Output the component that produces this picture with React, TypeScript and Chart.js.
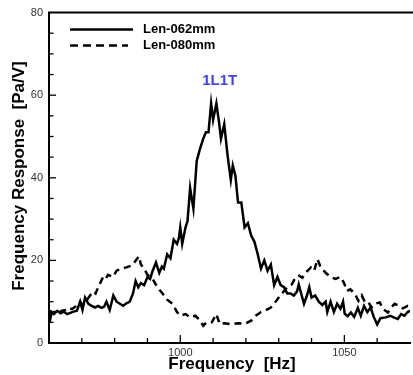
import React, { useEffect, useRef } from "react";
import { Chart, registerables } from "chart.js";

Chart.register(...registerables);

// Len-062mm (solid)
const freq062 = [960.2, 960.8, 961.5, 962.5, 963.5, 964.5, 965.5, 966.5, 967.5, 968.5, 969.5, 970.2, 971, 972, 973, 974, 975, 976, 976.8, 977.5, 978.5, 979.6, 980.6, 981.6, 982.6, 983.6, 984.6, 985.6, 986.4, 987.2, 988, 989, 990, 990.8, 991.6, 992.6, 993.6, 994.4, 995, 996, 997, 998, 999, 999.6, 1000, 1000.6, 1001.6, 1002.2, 1003, 1004, 1005, 1006, 1007, 1007.8, 1008.6, 1009.4, 1010, 1011, 1011.8, 1012.4, 1013.4, 1014.4, 1015.4, 1016, 1016.8, 1017.6, 1018.6, 1019.6, 1020.6, 1021.6, 1022.6, 1023.6, 1024.6, 1025.6, 1026.6, 1027.6, 1028.6, 1029.6, 1030.6, 1031.6, 1032.6, 1033.6, 1034.6, 1035.6, 1036.1, 1036.9, 1037.7, 1038.6, 1039.3, 1040, 1041.1, 1042.2, 1043.3, 1044.3, 1044.8, 1045.8, 1046.8, 1047.8, 1048.8, 1049.6, 1050.1, 1051, 1052, 1053, 1054.1, 1055, 1056, 1057, 1058, 1059, 1060, 1061, 1062.6, 1064, 1065, 1066.3, 1067.3, 1068.3, 1069.3, 1070];
const resp062 = [5, 7.5, 7, 7.8, 7.2, 7.6, 7, 7.3, 7.6, 7.8, 10, 8, 11, 9.5, 9, 8.6, 9, 8.5, 8.8, 10, 8, 11.5, 10, 9.5, 9, 9.6, 10, 12, 15, 13.5, 14.5, 14, 16, 15.5, 17.5, 19.5, 17, 18.5, 18, 21.5, 20.5, 25, 24, 25.5, 28, 24, 28, 29.5, 37.5, 32.5, 44, 47, 49.5, 51, 51, 58, 54, 58, 53.5, 49.5, 53, 45.5, 39.5, 43, 40.5, 34, 34, 28, 29, 26, 24.5, 21.5, 18, 20, 17.5, 19, 14, 16, 14, 13.5, 12, 12, 11.5, 12.5, 14.2, 11.8, 9.5, 11.5, 13.5, 11, 11.5, 10, 9.2, 10, 7.5, 10, 7.5, 9.5, 8.3, 10, 7.1, 6.5, 7.4, 6.3, 8.5, 6.6, 9, 7.5, 8.6, 6.2, 4.5, 6, 6.2, 6.6, 6.2, 5.8, 7, 6.6, 7.5, 7.8];

// Len-080mm (dashed)
const freq080 = [960.2, 961, 962, 963, 964, 965, 966, 967, 968, 969.5, 970.2, 971, 972.5, 973.5, 974.2, 975, 976.5, 977.2, 978, 979.5, 980.6, 982, 983.6, 985, 986, 987.4, 988, 989, 990, 991.6, 993, 994.6, 996, 997.6, 999, 1000, 1001.6, 1003, 1004.6, 1006, 1007, 1008, 1009.6, 1011, 1012, 1013.6, 1015.6, 1017.6, 1019.6, 1021.6, 1023, 1024.6, 1026, 1027.6, 1028.6, 1030, 1031.2, 1032.6, 1034, 1035.2, 1036.2, 1037.2, 1038.2, 1039.8, 1040.8, 1041.8, 1042.8, 1044.3, 1045.8, 1047.3, 1048.8, 1049.8, 1050.8, 1051.8, 1053.3, 1054.3, 1055.3, 1056.3, 1057.3, 1058.3, 1059.3, 1060.8, 1061.8, 1063.3, 1064.3, 1065.3, 1066.3, 1067.8, 1069.3, 1070];
const resp080 = [7.8, 7.2, 7.8, 7.4, 7.8, 8, 8.5, 8.2, 8.8, 10, 9.2, 9.8, 11.5, 12.5, 12, 13.5, 16, 15.5, 16.5, 16, 17.5, 18, 18.3, 18.7, 19.5, 21, 19, 18, 16.5, 15.5, 13.5, 12, 10.5, 9.5, 7.5, 6.6, 7, 6.2, 6.6, 5.5, 4.2, 5, 5, 7, 4.6, 4.8, 4.5, 4.8, 4.6, 5.4, 6.6, 7.5, 7.9, 8.6, 9.5, 11, 12.2, 13.5, 14.2, 16, 16.3, 15.8, 17, 18.3, 17.5, 20.3, 18.3, 17, 16, 15.5, 16, 14.7, 12.6, 13, 11.8, 10.2, 11.5, 9.8, 9.9, 8.6, 9.5, 9.8, 8.2, 7.4, 8.6, 9.5, 9.1, 8.4, 9, 8.8];

const seriesNames = ["Len-062mm", "Len-080mm"];
const xTitle = "Frequency  [Hz]";
const yTitle = "Frequency Response  [Pa/V]";
const annotationText = "1L1T";
const annotationAt = [1012, 63.5];

const X_MIN = 960, X_MAX = 1070, X_MINOR = 10, X_MAJOR = 50;
const Y_MIN = 0, Y_MAX = 80, Y_MINOR = 5, Y_MAJOR = 20;

const toPoints = (xs: number[], ys: number[]) => xs.map((x, i) => ({ x, y: ys[i] }));

const decorPlugin = {
  id: "decor",
  afterDraw(chart: any) {
    const ctx = chart.ctx;
    const ca = chart.chartArea;
    const xs = chart.scales.x;
    const ys = chart.scales.y;
    ctx.save();
    // top frame line
    ctx.strokeStyle = "#000";
    ctx.lineWidth = 2;
    ctx.beginPath();
    ctx.moveTo(ca.left - 1, ca.top);
    ctx.lineTo(chart.width, ca.top);
    ctx.stroke();
    // inward ticks
    ctx.lineWidth = 1.3;
    for (let v = X_MIN + X_MINOR; v < X_MAX; v += X_MINOR) {
      const px = xs.getPixelForValue(v);
      const len = v % X_MAJOR === 0 ? 8 : 5;
      ctx.beginPath();
      ctx.moveTo(px, ca.bottom);
      ctx.lineTo(px, ca.bottom - len);
      ctx.stroke();
    }
    for (let v = Y_MIN + Y_MINOR; v < Y_MAX; v += Y_MINOR) {
      const py = ys.getPixelForValue(v);
      const len = v % Y_MAJOR === 0 ? 7 : 4.5;
      ctx.beginPath();
      ctx.moveTo(ca.left, py);
      ctx.lineTo(ca.left + len, py);
      ctx.stroke();
    }
    // legend
    ctx.lineWidth = 2.5;
    ctx.beginPath();
    ctx.moveTo(ca.left + 21, ca.top + 17);
    ctx.lineTo(ca.left + 84, ca.top + 17);
    ctx.stroke();
    ctx.setLineDash([8, 5]);
    ctx.beginPath();
    ctx.moveTo(ca.left + 21, ca.top + 33);
    ctx.lineTo(ca.left + 79, ca.top + 33);
    ctx.stroke();
    ctx.setLineDash([]);
    ctx.fillStyle = "#000";
    ctx.font = "bold 13px 'Liberation Sans', Arial, sans-serif";
    ctx.textAlign = "left";
    ctx.textBaseline = "middle";
    ctx.fillText(seriesNames[0], ca.left + 94, ca.top + 17);
    ctx.fillText(seriesNames[1], ca.left + 94, ca.top + 33);
    // annotation
    ctx.fillStyle = "#4040ff";
    ctx.font = "bold 15px 'Liberation Sans', Arial, sans-serif";
    ctx.textAlign = "center";
    ctx.fillText(annotationText, xs.getPixelForValue(annotationAt[0]), ys.getPixelForValue(annotationAt[1]));
    // axis titles
    ctx.fillStyle = "#000";
    ctx.font = "bold 17px 'Liberation Sans', Arial, sans-serif";
    ctx.fillText(xTitle, 232, 364);
    ctx.translate(19, 176);
    ctx.rotate(-Math.PI / 2);
    ctx.fillText(yTitle, 0, 0);
    ctx.restore();
  },
};

export default function App() {
  const ref = useRef<HTMLCanvasElement | null>(null);
  useEffect(() => {
    if (!ref.current) return;
    const chart = new Chart(ref.current, {
      type: "line",
      data: {
        datasets: [
          {
            label: seriesNames[0],
            data: toPoints(freq062, resp062),
            borderColor: "#000",
            borderWidth: 2.5,
            pointRadius: 0,
            tension: 0,
            fill: false,
          },
          {
            label: seriesNames[1],
            data: toPoints(freq080, resp080),
            borderColor: "#000",
            borderWidth: 2.5,
            borderDash: [7, 5],
            pointRadius: 0,
            tension: 0,
            fill: false,
          },
        ],
      },
      options: {
        animation: false,
        responsive: false,
        parsing: true,
        layout: { padding: { top: 10, right: 0, left: 0, bottom: 0 } },
        plugins: { legend: { display: false }, tooltip: { enabled: false } },
        scales: {
          x: {
            type: "linear",
            min: X_MIN,
            max: X_MAX,
            grid: { display: false, drawTicks: false },
            border: { display: true, color: "#000", width: 2 },
            afterFit: (s: any) => { s.height = 32; },
            ticks: {
              stepSize: X_MINOR,
              autoSkip: false,
              maxRotation: 0,
              padding: 3,
              color: "#333",
              font: { family: "'Liberation Sans', Arial, sans-serif", size: 11 },
              callback: (v: any) => (Number(v) % X_MAJOR === 0 ? String(v) : ""),
            },
          },
          y: {
            type: "linear",
            min: Y_MIN,
            max: Y_MAX,
            grid: { display: false, drawTicks: false },
            border: { display: true, color: "#000", width: 2 },
            afterFit: (s: any) => { s.width = 49; },
            ticks: {
              stepSize: Y_MINOR,
              autoSkip: false,
              padding: 6,
              color: "#333",
              font: { family: "'Liberation Sans', Arial, sans-serif", size: 11 },
              callback: (v: any) => (Number(v) % Y_MAJOR === 0 ? String(v) : ""),
            },
          },
        },
      },
      plugins: [decorPlugin],
    });
    return () => chart.destroy();
  }, []);
  return (
    <div style={{ position: "absolute", left: 0, top: 0, width: 413, height: 375, background: "#fff" }}>
      <canvas ref={ref} width={413} height={375} />
    </div>
  );
}
